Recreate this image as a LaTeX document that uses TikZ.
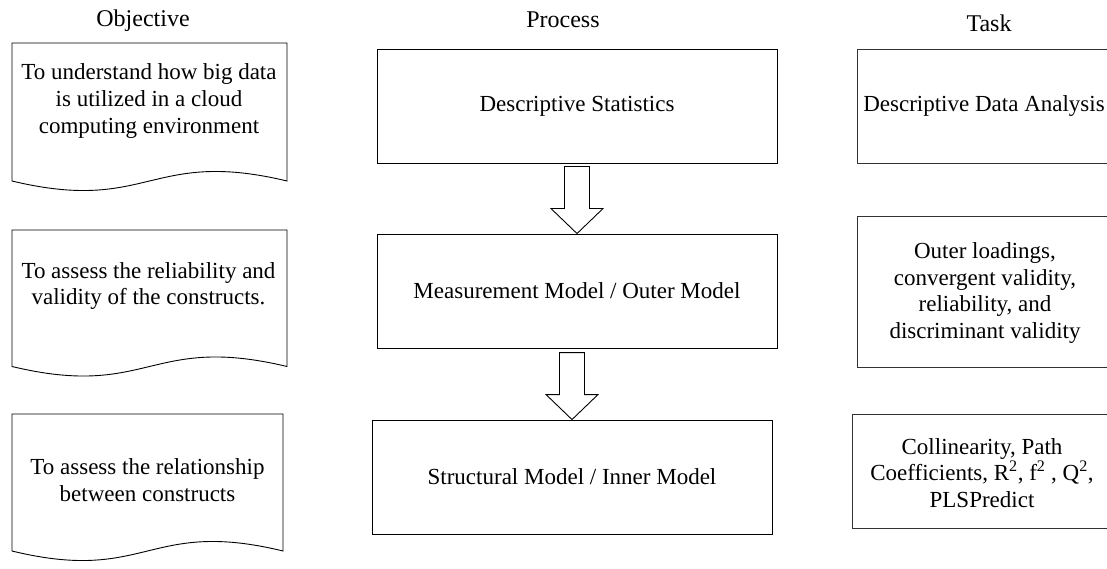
\documentclass[tikz,border=0pt]{standalone}
\usepackage{fontspec}
\setmainfont{Liberation Serif}
\usetikzlibrary{calc}
\tikzset{
  base/.style={line width=0.9pt, draw=black},
  procbox/.style={base, rectangle, minimum width=400pt, minimum height=114pt, inner sep=0pt},
  taskbox/.style={base, draw=black!80, rectangle, inner sep=0pt},
  txt/.style={align=center, font=\fontsize{23}{26.7}\selectfont, inner sep=0pt},
  head/.style={anchor=base, font=\fontsize{24}{27}\selectfont, inner sep=0pt},
  blockarrow/.style={base, fill=white, line join=miter},
}
\newcommand{\docshape}[4]{% L R top yb
  \draw[base] (#1,#3) -- (#2,#3) -- (#2,#4)
    .. controls ({(#1+#2)/2},{#4-33}) and ({(#1+#2)/2},{#4+33}) .. (#1,#4) -- cycle;}
\newcommand{\blkarrow}[1]{% tip node anchor
  \draw[blockarrow] ($(#1)+(-12.5,-67)$) -- ($(#1)+(-12.5,-25)$) -- ($(#1)+(-26,-25)$)
    -- (#1) -- ($(#1)+(26,-25)$) -- ($(#1)+(12.5,-25)$) -- ($(#1)+(12.5,-67)$) -- cycle;}
\begin{document}
\begin{tikzpicture}[x=1pt, y=-1pt]
\useasboundingbox (0,0) rectangle (1107,569);
\clip (0,0) rectangle (1107,569);
% headers
\node[head] (hobj) at (143,27) {Objective};
\node[head] (hproc) at (563,28) {Process};
\node[head] (htask) at (989,32) {Task};
% objective documents
\docshape{12}{287}{43}{181}
\node[txt] (o1) at (149,101) {To understand how big data\\is utilized in a cloud\\computing environment};
\docshape{12}{287}{230}{366.5}
\node[txt] (o2) at (148.5,286) {To assess the reliability and\\validity of the constructs.};
\docshape{12}{283}{414}{551}
\node[txt] (o3) at (147.5,480) {To assess the relationship\\between constructs};
% process boxes
\node[procbox] (p1) at (577,106) {};
\node[txt] at (p1.center) {Descriptive Statistics};
\node[procbox] (p2) at (577,291) {};
\node[txt] at (p2.center) {Measurement Model / Outer Model};
\node[procbox] (p3) at (572,477) {};
\node[txt] at (p3.center) {Structural Model / Inner Model};
% arrows
\blkarrow{p2.north}
\blkarrow{p3.north}
% task boxes
\draw[taskbox] (857,49) rectangle (1112,163);
\node[txt] (t1) at (984,106) {Descriptive Data Analysis};
\draw[taskbox] (857,216) rectangle (1112,367);
\node[txt] (t2) at (985,293) {Outer loadings,\\convergent validity,\\reliability, and\\discriminant validity};
\draw[taskbox] (852,414) rectangle (1112,528);
\node[txt] (t3) at (982,473) {Collinearity, Path\\Coefficients, R\textsuperscript{2}, f\textsuperscript{2} , Q\textsuperscript{2},\\PLSPredict};
\end{tikzpicture}
\end{document}
